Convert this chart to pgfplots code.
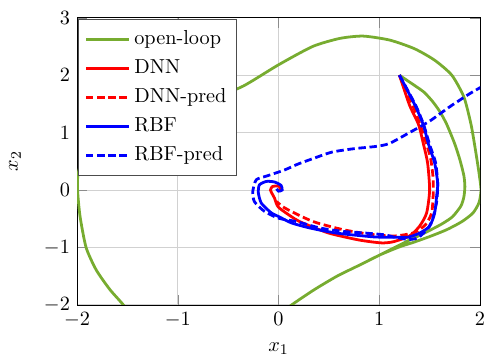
\documentclass[11pt,border=0pt]{standalone}
\usepackage{pgfplots}
\pgfplotsset{compat=1.18}
\definecolor{olgreen}{rgb}{0.466,0.674,0.188}
\begin{document}
\begin{tikzpicture}
\begin{axis}[
  name=ax,
  width=217.6pt, height=155.1pt, scale only axis,
  xmin=-2, xmax=2, ymin=-2, ymax=3,
  xtick={-2,-1,0,1,2}, ytick={-2,-1,0,1,2,3},
  grid=major,
  grid style={color=black!18, line width=0.5pt},
  major tick length=5.5pt,
  tick style={color=black!45},
  xlabel={$x_1$}, ylabel={$x_2$},
  every axis x label/.style={at={(rel axis cs:0.5,0)}, yshift=-23.8pt, anchor=center},
  every axis y label/.style={at={(rel axis cs:0,0.5)}, xshift=-33.5pt, rotate=90, anchor=center},
  legend cell align=left,
  legend style={at={(rel axis cs:0.003,0.995)}, anchor=north west,
    draw=black!70, fill=white, inner xsep=3.25pt, inner ysep=2.85pt,
    nodes={inner xsep=2.15pt, inner ysep=3pt, text height=7.5pt, text depth=2.2pt}},
  legend image code/.code={\draw[#1] (0cm,0cm) -- (23.2pt,0cm);},
  every axis plot/.append style={line width=1.5pt},
  dashpat/.style={dash pattern=on 4pt off 2pt},
]
\addplot[olgreen, smooth, tension=0.4] coordinates {
(1.20,2.00) (1.30,1.88) (1.44,1.71) (1.53,1.54) (1.60,1.37) (1.66,1.18)
(1.70,1.02) (1.75,0.80) (1.80,0.53) (1.84,0.25) (1.85,0.06) (1.84,-0.12)
(1.81,-0.28) (1.73,-0.46) (1.65,-0.56) (1.57,-0.64) (1.40,-0.79) (1.30,-0.87)
(1.20,-0.96) (1.006,-1.13) (0.80,-1.31) (0.58,-1.50) (0.35,-1.74) (0.13,-2.00)
(0.00,-2.18) (-0.34,-2.50) (-0.61,-2.64) (-0.84,-2.68) (-1.10,-2.61) (-1.34,-2.45)
(-1.54,-2.00) (-1.675,-1.73) (-1.81,-1.39) (-1.91,-1.00) (-1.97,-0.46) (-1.995,0.00)
(-1.99,0.27) (-1.93,0.65) (-1.78,0.95) (-1.55,1.17) (-1.25,1.33) (-0.95,1.45)
(-0.65,1.60) (-0.35,1.81) (0.00,2.18) (0.34,2.50) (0.61,2.64) (0.84,2.68)
(1.105,2.61) (1.35,2.46) (1.55,2.26) (1.72,2.00) (1.84,1.62) (1.91,1.15)
(1.95,0.75) (1.99,0.30) (2.01,0.00) (1.99,-0.22) (1.93,-0.40) (1.82,-0.55)
(1.67,-0.69) (1.50,-0.81) (1.34,-0.91) (1.20,-0.99) (1.006,-1.13) (0.80,-1.31)
(0.58,-1.50) (0.35,-1.74) (0.13,-2.00) (0.00,-2.18)
};
\addlegendentry{open-loop}
\addplot[red, smooth, tension=0.4] coordinates {
(1.20,2.00) (1.30,1.48) (1.39,1.14) (1.44,0.79) (1.48,0.47) (1.50,0.00)
(1.47,-0.40) (1.40,-0.63) (1.30,-0.80) (1.14,-0.90) (1.02,-0.92) (0.80,-0.87)
(0.50,-0.75) (0.25,-0.58) (0.16,-0.50) (0.00,-0.30) (-0.04,-0.14) (-0.08,0.00)
(-0.057,0.063) (-0.007,0.07) (0.026,0.035) (0.01,-0.005) (-0.005,0.01)
};
\addlegendentry{DNN}
\addplot[red, dashpat, smooth, tension=0.4] coordinates {
(1.20,2.00) (1.33,1.48) (1.40,1.17) (1.46,0.85) (1.51,0.55) (1.535,0.20)
(1.535,-0.10) (1.52,-0.40) (1.46,-0.60) (1.35,-0.74) (1.15,-0.80) (0.91,-0.77)
(0.64,-0.69) (0.38,-0.57) (0.24,-0.47) (0.06,-0.31) (-0.02,-0.20)
};
\addlegendentry{DNN-pred}
\addplot[blue, smooth, tension=0.4] coordinates {
(1.20,2.00) (1.354,1.48) (1.436,1.14) (1.49,0.79) (1.55,0.47) (1.58,0.12)
(1.57,-0.10) (1.55,-0.40) (1.50,-0.63) (1.40,-0.75) (1.29,-0.82) (1.205,-0.82)
(1.00,-0.82) (0.906,-0.81) (0.576,-0.75) (0.31,-0.66) (0.125,-0.57) (0.00,-0.46)
(-0.07,-0.40) (-0.17,-0.23) (-0.20,-0.05) (-0.19,0.09) (-0.12,0.15) (-0.04,0.14)
(0.026,0.08) (0.036,0.00) (0.00,-0.02) (-0.02,0.02)
};
\addlegendentry{RBF}
\addplot[blue, dashpat, smooth, tension=0.4] coordinates {
(1.20,2.00) (1.36,1.48) (1.44,1.14) (1.50,0.79) (1.56,0.47) (1.58,0.10)
(1.57,-0.20) (1.53,-0.50) (1.486,-0.66) (1.386,-0.83) (1.287,-0.86) (1.15,-0.82)
(1.056,-0.78) (0.87,-0.75) (0.64,-0.72) (0.41,-0.66) (0.18,-0.55) (0.00,-0.49)
(-0.14,-0.37) (-0.24,-0.20) (-0.255,-0.02) (-0.22,0.18) (-0.106,0.25) (0.06,0.35)
(0.19,0.45) (0.33,0.54) (0.53,0.66) (0.75,0.72) (0.97,0.76) (1.10,0.81)
(1.30,1.00) (1.50,1.20) (1.70,1.45) (1.90,1.68) (2.02,1.80)
};
\addlegendentry{RBF-pred}
\end{axis}
\pgfresetboundingbox
\path[use as bounding box] ([xshift=-41.6pt,yshift=-30.8pt]ax.south west) rectangle ([xshift=2.7pt,yshift=9.56pt]ax.north east);
\end{tikzpicture}
\end{document}
